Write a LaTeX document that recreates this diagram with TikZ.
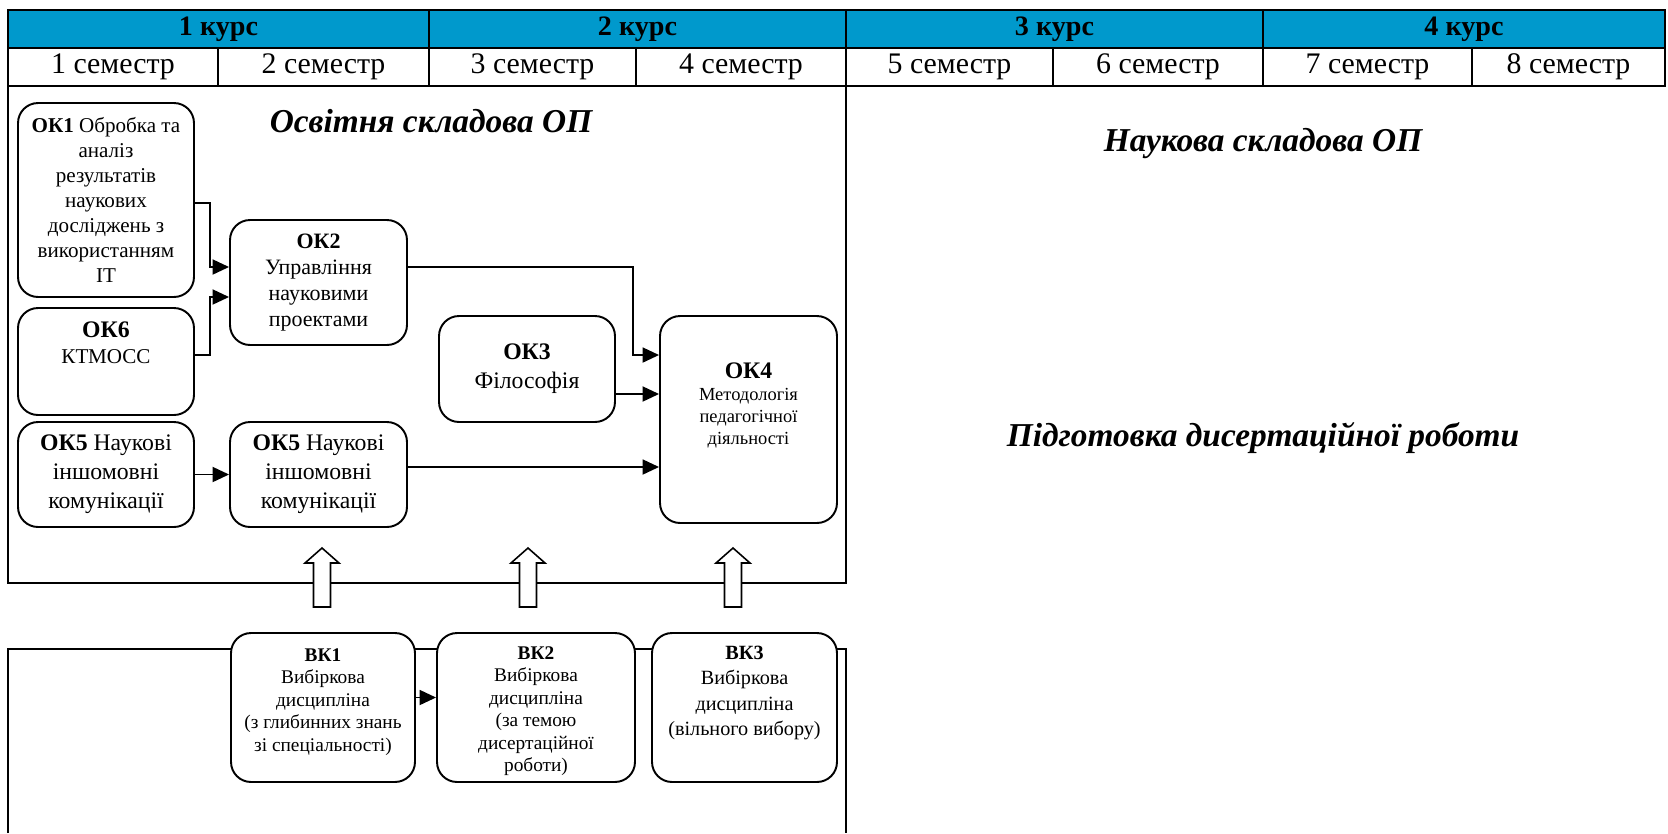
\documentclass[tikz,border=0pt]{standalone}
\usepackage{fontspec}
\setmainfont{Liberation Serif}
\usepackage{xcolor}
\usetikzlibrary{arrows.meta}
\definecolor{kursblue}{HTML}{0099CC}

\begin{document}
\begin{tikzpicture}[x=0.02cm,y=-0.02cm,line width=1.1pt,
  box/.style={draw,fill=white,rounded corners=0.4cm,align=center,inner sep=0pt},
  conn/.style={-{Triangle[length=0.33cm,width=0.3cm]}},
  kurs/.style={font=\fontsize{16}{18}\selectfont\bfseries},
  sem/.style={font=\fontsize{17}{19}\selectfont},
  part/.style={font=\fontsize{19}{22}\selectfont\bfseries\itshape},
  big/.style={font=\fontsize{13.5}{16.5}\selectfont},
  small/.style={font=\fontsize{11}{12.8}\selectfont,align=center}]
\useasboundingbox (0,0) rectangle (1668,833);
% header
\fill[kursblue] (8,10) rectangle (1665,48);
\draw (8,10) rectangle (1665,86); \draw (8,48)--(1665,48);
\foreach \x in {429,846,1263}{\draw (\x,10)--(\x,86);}
\foreach \x in {218,636,1053,1472}{\draw (\x,48)--(\x,86);}
\foreach \i/\xc in {1/218.5,2/637.5,3/1054.5,4/1464}{\node[kurs] (kurs\i) at (\xc,29) {\i{} курс};}
\foreach \i/\xc in {1/113,2/323.5,3/532.5,4/741,5/949.5,6/1158,7/1367.5,8/1568.5}{\node[sem] (sem\i) at (\xc,67) {\i{} семестр};}
% parts
\draw (8,86) rectangle (846,583);
\draw (8,833)--(8,649)--(846,649)--(846,833);
\node[part] (osvita) at (431,121) {Освітня складова ОП};
\node[part] (nauka) at (1263,144) {Наукова складова ОП};
\node[part] (dysert) at (1263,438) {Підготовка дисертаційної роботи};
% OK
\node[box,minimum width=3.52cm,minimum height=3.88cm,font=\fontsize{12}{14.2}\selectfont] (ok1) at (106,200) {\textbf{ОК1} Обробка та\\аналіз\\результатів\\наукових\\досліджень з\\використанням\\IT};
\node[box,minimum width=3.52cm,minimum height=2.14cm] (ok6) at (106,361.5) {};
\node[align=center,font=\fontsize{12}{15}\selectfont] (ok6t) at (106,343) {{\fontsize{13.5}{15}\selectfont\textbf{ОК6}}\\КТМОСС};
\node[box,big,minimum width=3.52cm,minimum height=2.1cm] (ok5a) at (106,474.5) {\textbf{ОК5} Наукові\\іншомовні\\комунікації};
\node[box,minimum width=3.54cm,minimum height=2.5cm,font=\fontsize{12.5}{14.8}\selectfont] (ok2) at (318.5,282.5) {\textbf{ОК2}\\Управління\\науковими\\проектами};
\node[box,big,minimum width=3.54cm,minimum height=2.1cm] (ok5b) at (318.5,474.5) {\textbf{ОК5} Наукові\\іншомовні\\комунікації};
\node[box,big,minimum width=3.52cm,minimum height=2.12cm] (ok3) at (527,369) {\textbf{ОК3}\\Філософія};
\node[box,minimum width=3.54cm,minimum height=4.14cm] (ok4) at (748.5,419.5) {};
\node[small,font=\fontsize{10.5}{12.5}\selectfont] (ok4t) at (748.5,405) {{\fontsize{13.5}{14}\selectfont\textbf{ОК4}}\\Методологія\\педагогічної\\діяльності};
% VK
\node[box,minimum width=3.68cm,minimum height=2.98cm] (vk1) at (323,707.5) {};
\node[box,minimum width=3.96cm,minimum height=2.98cm] (vk2) at (536,707.5) {};
\node[box,minimum width=3.7cm,minimum height=2.98cm] (vk3) at (744.5,707.5) {};
\node[small] (vk1t) at (323,702) {\textbf{ВК1}\\Вибіркова\\дисципліна\\(з глибинних знань\\зі спеціальності)};
\node[small] (vk2t) at (536,711) {\textbf{ВК2}\\Вибіркова\\дисципліна\\(за темою\\дисертаційної\\роботи)};
\node[small,font=\fontsize{11.5}{14.5}\selectfont] (vk3t) at (744.5,693) {\textbf{ВК3}\\Вибіркова\\дисципліна\\(вільного вибору)};
\foreach \x in {322,528,733}{\draw[fill=white,line width=0.9pt] (\x-8.5,607)--(\x-8.5,563)--(\x-17,563)--(\x,548)--(\x+17,563)--(\x+8.5,563)--(\x+8.5,607)--cycle;}
% arrows
\draw[conn] ([yshift=-0.06cm]ok1.east) -- (210,203) |- ([yshift=0.31cm]ok2.west);
\draw[conn] ([yshift=0.13cm]ok6.east) -- (210,355) |- ([yshift=-0.29cm]ok2.west);
\draw[conn] (ok5a) -- (ok5b);
\draw[conn] ([yshift=0.31cm]ok2.east) -- (633,267) |- ([yshift=1.29cm]ok4.west);
\draw[conn] ([yshift=-0.5cm]ok3.east) -- ([yshift=-0.5cm]ok3.east -| ok4.west);
\draw[conn] ([yshift=0.15cm]ok5b.east) -- ([yshift=0.15cm]ok5b.east -| ok4.west);
\draw[conn] ([yshift=0.2cm]vk1.east) -- ([yshift=0.2cm]vk1.east -| vk2.west);
\end{tikzpicture}
\end{document}
